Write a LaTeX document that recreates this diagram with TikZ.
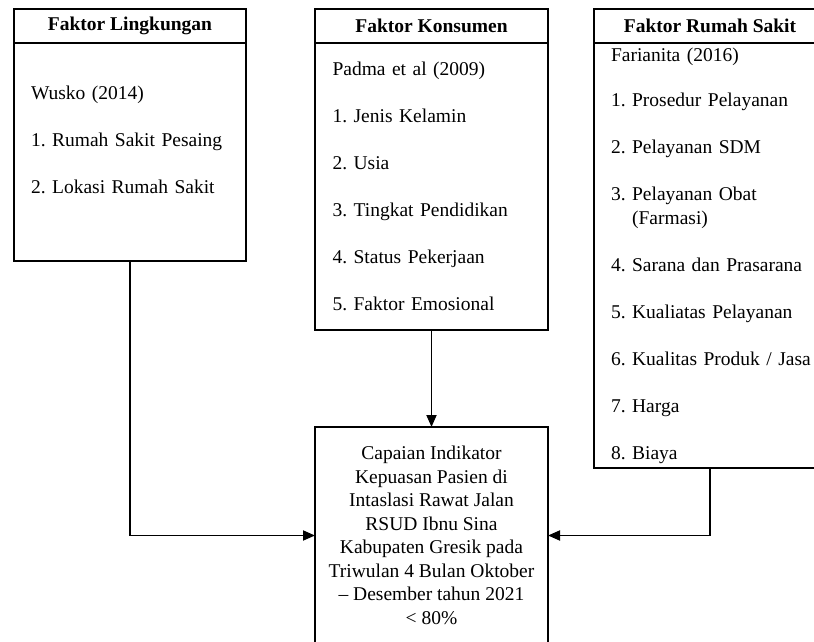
\documentclass[tikz,border=0pt]{standalone}
\usepackage{fontspec}
\setmainfont{Liberation Serif}
\usetikzlibrary{arrows.meta,positioning}
\frenchspacing

\begin{document}
\begin{tikzpicture}[x=1pt,y=-1pt,line width=1.8pt,
                    >={Triangle[length=12pt,width=10pt]},
                    font=\fontsize{19.5}{23.5}\selectfont]
  \tikzset{head/.style={draw,anchor=north west,outer sep=0pt,inner sep=0pt,
                        minimum width=232pt,minimum height=34pt,
                        font=\fontsize{19.5}{23.5}\selectfont\bfseries},
           body/.style={draw,outer sep=0pt,inner xsep=17pt,inner ysep=0pt,
                        minimum width=232pt,text width=198pt,align=left}}
  \useasboundingbox (0,0) rectangle (814,642);
  \clip (0,0) rectangle (814,642);

  \node[head] (lingHead) at (14,9) {Faktor Lingkungan};
  \node[body,below=0pt of lingHead,minimum height=218pt] (ling)
    {Wusko (2014)\\[23.5pt]
     1. Rumah Sakit Pesaing\\[23.5pt]
     2. Lokasi Rumah Sakit\\[2pt]\mbox{}};

  \node[head,minimum width=233pt] (konsHead) at (315,9) {Faktor Konsumen};
  \node[body,below=0pt of konsHead,minimum width=233pt,minimum height=287pt] (kons)
    {Padma et al (2009)\\[23.5pt]
     1. Jenis Kelamin\\[23.5pt]
     2. Usia\\[23.5pt]
     3. Tingkat Pendidikan\\[23.5pt]
     4. Status Pekerjaan\\[23.5pt]
     5. Faktor Emosional};

  \node[head] (rsHead) at (594,9) {Faktor Rumah Sakit};
  \node[body,below=0pt of rsHead,minimum height=425pt] (rs)
    {Farianita (2016)\\[22pt]
     1. Prosedur Pelayanan\\[23.5pt]
     2. Pelayanan SDM\\[23.5pt]
     3. Pelayanan Obat\\
     \phantom{3. }(Farmasi)\\[23.5pt]
     \mbox{4. Sarana dan Prasarana}\\[23.5pt]
     5. Kualiatas Pelayanan\\[23.5pt]
     \mbox{6. Kualitas Produk / Jasa}\\[23.5pt]
     7. Harga\\[23.5pt]
     8. Biaya};

  \node[draw,outer sep=0pt,inner sep=0pt,minimum width=233pt,minimum height=217pt,
        align=center,below=97pt of kons] (goal)
    {Capaian Indikator\\
     Kepuasan Pasien di\\
     Intaslasi Rawat Jalan\\
     RSUD Ibnu Sina\\
     Kabupaten Gresik pada\\
     Triwulan 4 Bulan Oktober\\
     -- Desember tahun 2021\\
     < 80\%};

  \draw[->] (kons) -- (goal);
  \draw[->] (ling) |- (goal);
  \draw[->] (rs) |- (goal);
\end{tikzpicture}
\end{document}
